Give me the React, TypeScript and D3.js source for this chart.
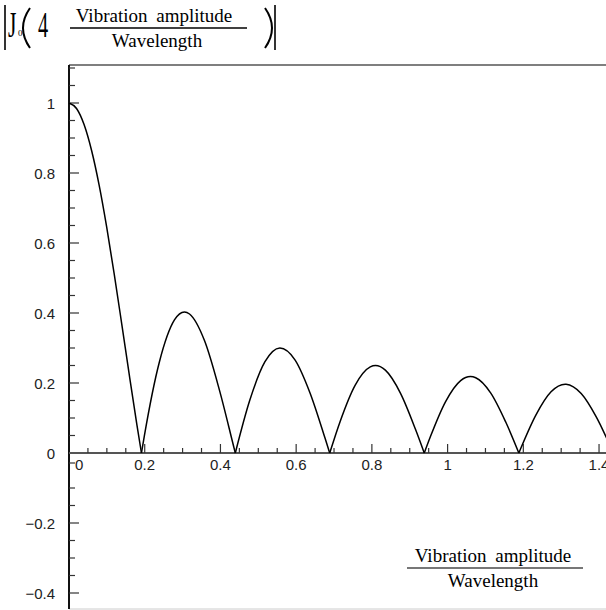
import * as d3 from "d3";
import { useEffect, useRef } from "react";

// Vibration amplitude / Wavelength (horizontal) and |J0|
const ratio = [
  0, 0.01989, 0.03979, 0.05968, 0.07958, 0.09947, 0.11937, 0.13926, 0.15915, 0.17905, 0.19137,
  0.19894, 0.23873, 0.27852, 0.30492, 0.31831, 0.3581, 0.39789, 0.43768, 0.43928,
  0.47746, 0.51725, 0.55704, 0.59683, 0.63662, 0.67641, 0.68864,
  0.7162, 0.75599, 0.79577, 0.80958, 0.83556, 0.87535, 0.91514, 0.93834,
  0.95493, 0.99472, 1.03451, 1.06027, 1.0743, 1.11408, 1.15387, 1.18817,
  1.19366, 1.23345, 1.27324, 1.31069, 1.31303, 1.35282, 1.39261, 1.43239, 1.43805,
  1.47218,
];
const besselAbs = [
  1, 0.9844, 0.9385, 0.8642, 0.7652, 0.6459, 0.5118, 0.369, 0.2239, 0.0828, 0,
  0.0484, 0.2601, 0.3801, 0.4028, 0.3971, 0.3205, 0.1776, 0.0068, 0,
  0.1506, 0.2601, 0.3001, 0.2663, 0.1717, 0.0419, 0,
  0.0903, 0.194, 0.2459, 0.2497, 0.2367, 0.1712, 0.0677, 0,
  0.0477, 0.147, 0.207, 0.2184, 0.2151, 0.1712, 0.0877, 0,
  0.0142, 0.109, 0.1749, 0.1965, 0.1964, 0.1699, 0.1033, 0.0134, 0,
  0.078,
];

const xTickValues = [0, 0.2, 0.4, 0.6, 0.8, 1, 1.2, 1.4];
const xTickLabels = ["0", "0.2", "0.4", "0.6", "0.8", "1", "1.2", "1.4"];
const yTickValues = [-0.4, -0.2, 0, 0.2, 0.4, 0.6, 0.8, 1];
const yTickLabels = ["\u22120.4", "\u22120.2", "0", "0.2", "0.4", "0.6", "0.8", "1"];

export default function App() {
  const ref = useRef<SVGSVGElement | null>(null);
  const width = 606,
    height = 610;
  const left = 69,
    top = 65,
    bottom = 609;

  useEffect(() => {
    const svg = d3.select(ref.current);
    svg.selectAll("*").remove();

    const x = d3.scaleLinear().domain([0, 1.5]).range([left, left + 1.5 * 378.6]);
    const y = d3.scaleLinear().domain([0, 1]).range([453, 103]);

    // frame
    svg
      .append("line")
      .attr("x1", left)
      .attr("x2", width + 10)
      .attr("y1", top)
      .attr("y2", top)
      .attr("stroke", "#555")
      .attr("stroke-width", 1.5);
    svg
      .append("line")
      .attr("x1", left)
      .attr("x2", width + 10)
      .attr("y1", bottom)
      .attr("y2", bottom)
      .attr("stroke", "#ccc")
      .attr("stroke-width", 1);

    // y axis
    svg
      .append("line")
      .attr("x1", left)
      .attr("x2", left)
      .attr("y1", top)
      .attr("y2", bottom)
      .attr("stroke", "#111")
      .attr("stroke-width", 2);

    const yMinor = d3.range(-8, 23).map((i) => i * 0.05).filter((v) => Math.abs(v + 0.05) > 1e-6);
    svg
      .append("g")
      .selectAll("line")
      .data(yMinor)
      .join("line")
      .attr("x1", left)
      .attr("x2", (d) => (Math.abs(Math.round(d * 5) - d * 5) < 1e-6 ? left + 10 : left + 6))
      .attr("y1", (d) => y(d))
      .attr("y2", (d) => y(d))
      .attr("stroke", "#333")
      .attr("stroke-width", 1.2);
    // odd short tick just below the origin
    svg
      .append("line")
      .attr("x1", left)
      .attr("x2", left + 6)
      .attr("y1", 463)
      .attr("y2", 463)
      .attr("stroke", "#333")
      .attr("stroke-width", 1.2);

    svg
      .append("g")
      .selectAll("text")
      .data(yTickValues)
      .join("text")
      .attr("x", 55)
      .attr("y", (d) => y(d) + 5.5)
      .attr("text-anchor", "end")
      .attr("font-family", "Liberation Sans, Arial, sans-serif")
      .attr("font-size", 15)
      .attr("fill", "#222")
      .text((d, i) => yTickLabels[i]);

    // x axis at y = 0
    svg
      .append("line")
      .attr("x1", left)
      .attr("x2", width + 10)
      .attr("y1", y(0))
      .attr("y2", y(0))
      .attr("stroke", "#555")
      .attr("stroke-width", 2);

    const xMinor = d3.range(1, 30).map((i) => i * 0.05);
    svg
      .append("g")
      .selectAll("line")
      .data(xMinor)
      .join("line")
      .attr("x1", (d) => x(d))
      .attr("x2", (d) => x(d))
      .attr("y1", y(0))
      .attr("y2", (d) => (Math.abs(Math.round(d * 5) - d * 5) < 1e-6 ? y(0) - 9 : y(0) - 5))
      .attr("stroke", "#333")
      .attr("stroke-width", 1.2);

    svg
      .append("g")
      .selectAll("text")
      .data(xTickValues)
      .join("text")
      .attr("x", (d) => (d === 0 ? x(d) + 6 : x(d)))
      .attr("y", 470)
      .attr("text-anchor", (d) => (d === 0 ? "start" : "middle"))
      .attr("font-family", "Liberation Sans, Arial, sans-serif")
      .attr("font-size", 15)
      .attr("fill", "#222")
      .text((d, i) => xTickLabels[i]);

    // curve, one arch between each pair of zeros
    const arches: [number, number][][] = [];
    let cur: [number, number][] = [];
    ratio.forEach((r, i) => {
      const p: [number, number] = [r, besselAbs[i]];
      cur.push(p);
      if (besselAbs[i] === 0 && cur.length > 1) {
        arches.push(cur);
        cur = [p];
      }
    });
    if (cur.length > 1) arches.push(cur);

    const line = d3
      .line<[number, number]>()
      .x((d) => x(d[0]))
      .y((d) => y(d[1]))
      .curve(d3.curveMonotoneX);

    svg
      .append("g")
      .selectAll("path")
      .data(arches)
      .join("path")
      .attr("d", (d) => line(d))
      .attr("fill", "none")
      .attr("stroke", "#000")
      .attr("stroke-width", 1.5);

    // bottom right axis title
    const serif = "Liberation Serif, Times New Roman, serif";
    svg
      .append("text")
      .attr("x", 493)
      .attr("y", 562)
      .attr("text-anchor", "middle")
      .attr("font-family", serif)
      .attr("font-size", 19)
      .attr("word-spacing", 4)
      .text("Vibration amplitude");
    svg
      .append("line")
      .attr("x1", 407)
      .attr("x2", 583)
      .attr("y1", 568)
      .attr("y2", 568)
      .attr("stroke", "#777")
      .attr("stroke-width", 2);
    svg
      .append("text")
      .attr("x", 493)
      .attr("y", 587)
      .attr("text-anchor", "middle")
      .attr("font-family", serif)
      .attr("font-size", 19)
      .text("Wavelength");

    // top title |J0( 4 fraction )|
    const t = svg.append("g");
    t.append("line").attr("x1", 5).attr("x2", 5).attr("y1", 5).attr("y2", 50).attr("stroke", "#000").attr("stroke-width", 1.6);
    t.append("line").attr("x1", 275).attr("x2", 275).attr("y1", 5).attr("y2", 50).attr("stroke", "#000").attr("stroke-width", 1.6);
    t.append("text")
      .attr("transform", "translate(8,37) scale(0.6,1)")
      .attr("font-family", serif)
      .attr("font-size", 36)
      .text("J");
    t.append("text")
      .attr("x", 18)
      .attr("y", 36)
      .attr("font-family", serif)
      .attr("font-size", 9)
      .text("0");
    t.append("path").attr("d", "M30,8 Q16,28 30,48").attr("fill", "none").attr("stroke", "#000").attr("stroke-width", 2);
    t.append("path").attr("d", "M265,8 Q279,28 265,48").attr("fill", "none").attr("stroke", "#000").attr("stroke-width", 2);
    t.append("text")
      .attr("transform", "translate(38,37) scale(0.58,1)")
      .attr("font-family", serif)
      .attr("font-size", 35)
      .text("4");
    t.append("text")
      .attr("x", 154)
      .attr("y", 22)
      .attr("text-anchor", "middle")
      .attr("font-family", serif)
      .attr("font-size", 19)
      .attr("word-spacing", 4)
      .text("Vibration amplitude");
    t.append("line").attr("x1", 70).attr("x2", 247).attr("y1", 28).attr("y2", 28).attr("stroke", "#000").attr("stroke-width", 1.5);
    t.append("text")
      .attr("x", 157)
      .attr("y", 47)
      .attr("text-anchor", "middle")
      .attr("font-family", serif)
      .attr("font-size", 19)
      .text("Wavelength");
  }, []);

  return (
    <svg
      ref={ref}
      width={width}
      height={height}
      style={{ position: "absolute", left: 0, top: 0, background: "#fff" }}
    />
  );
}
